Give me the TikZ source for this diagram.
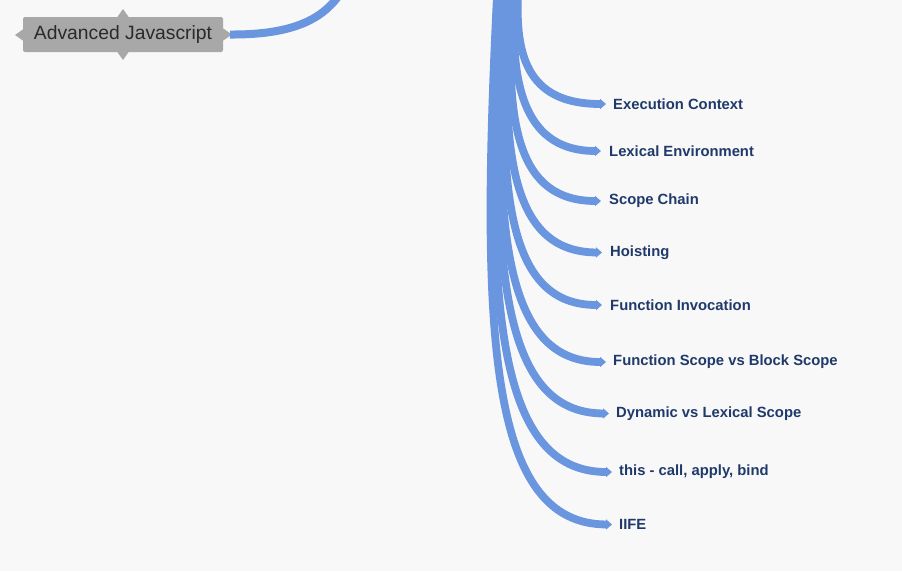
\documentclass[tikz,border=0pt]{standalone}
\usepackage{fontspec}
\setmainfont{Liberation Sans}
\usetikzlibrary{arrows.meta}
\definecolor{bgc}{HTML}{F8F8F8}
\definecolor{branchc}{HTML}{6A95DF}
\definecolor{leafc}{HTML}{1F3A6A}
\definecolor{rootc}{HTML}{A8A8A8}
\definecolor{roottext}{HTML}{2A2A2A}
\tikzset{
  leaf/.style={anchor=west, inner sep=0pt, font=\fontsize{14.8}{17}\selectfont\bfseries, text=leafc},
  branch/.style={draw=branchc, line width=7.8pt, line cap=butt, -{Triangle[length=6pt,width=10pt]}},
  rootbox/.style={fill=rootc, rounded corners=2pt, minimum width=200pt, minimum height=35pt, inner sep=0pt,
     font=\fontsize{19.3}{22}\selectfont, text=roottext},
}
\begin{document}
\begin{tikzpicture}[x=1pt,y=-1pt]
\useasboundingbox (0,0) rectangle (902,571);
\fill[bgc] (0,0) rectangle (902,571);
\clip (0,0) rectangle (902,571);

% root node
\node[rootbox] (root) at (123,34.5) {Advanced Javascript};
\fill[rootc] (117,17.5) -- (123,9) -- (129,17.5) -- cycle;
\fill[rootc] (117,51.5) -- (123,60) -- (129,51.5) -- cycle;
\fill[rootc] (23.5,29) -- (15,35) -- (23.5,41) -- cycle;
\coordinate (rootout) at (230,34.5);
\coordinate (top) at (340,-6);
\fill[rootc] (222.5,28) -- (232,34.5) -- (222.5,41) -- cycle;
\draw[draw=branchc, line width=8pt] (rootout) .. controls (300,35) and (325,15) .. (top);

% leaves
\node[leaf] (l1) at (613,104) {Execution Context};
\node[leaf] (l2) at (609,151) {Lexical Environment};
\node[leaf] (l3) at (609,201) {Scope Chain};
\node[leaf] (l4) at (610,252.5) {Hoisting};
\node[leaf] (l5) at (610,305) {Function Invocation};
\node[leaf] (l6) at (613,362) {Function Scope vs Block Scope};
\node[leaf] (l7) at (616,413.5) {Dynamic vs Lexical Scope};
\node[leaf] (l8) at (619,472) {this - call, apply, bind};
\node[leaf] (l9) at (619,524.5) {IIFE};

% branch starts
\coordinate (s1) at (518,-4);
\coordinate (s2) at (515,-4);
\coordinate (s3) at (513,-4);
\coordinate (s4) at (510,-4);
\coordinate (s5) at (508,-4);
\coordinate (s6) at (505,-4);
\coordinate (s7) at (503,-4);
\coordinate (s8) at (500,-4);
\coordinate (s9) at (497,-4);

\draw[branch] (s9) .. controls (480,340) and (490,524) .. ([xshift=-7pt]l9.west);
\draw[branch] (s8) .. controls (485,300) and (495,472) .. ([xshift=-7pt]l8.west);
\draw[branch] (s7) .. controls (489,270) and (502,413) .. ([xshift=-7pt]l7.west);
\draw[branch] (s6) .. controls (492,230) and (504,362) .. ([xshift=-7pt]l6.west);
\draw[branch] (s5) .. controls (496,195) and (508,305) .. ([xshift=-8pt]l5.west);
\draw[branch] (s4) .. controls (499,160) and (514,252) .. ([xshift=-8pt]l4.west);
\draw[branch] (s3) .. controls (504,125) and (518,201) .. ([xshift=-8pt]l3.west);
\draw[branch] (s2) .. controls (509,90) and (527,151) .. ([xshift=-8pt]l2.west);
\draw[branch] (s1) .. controls (515,62) and (532,104) .. ([xshift=-7pt]l1.west);
\end{tikzpicture}
\end{document}
